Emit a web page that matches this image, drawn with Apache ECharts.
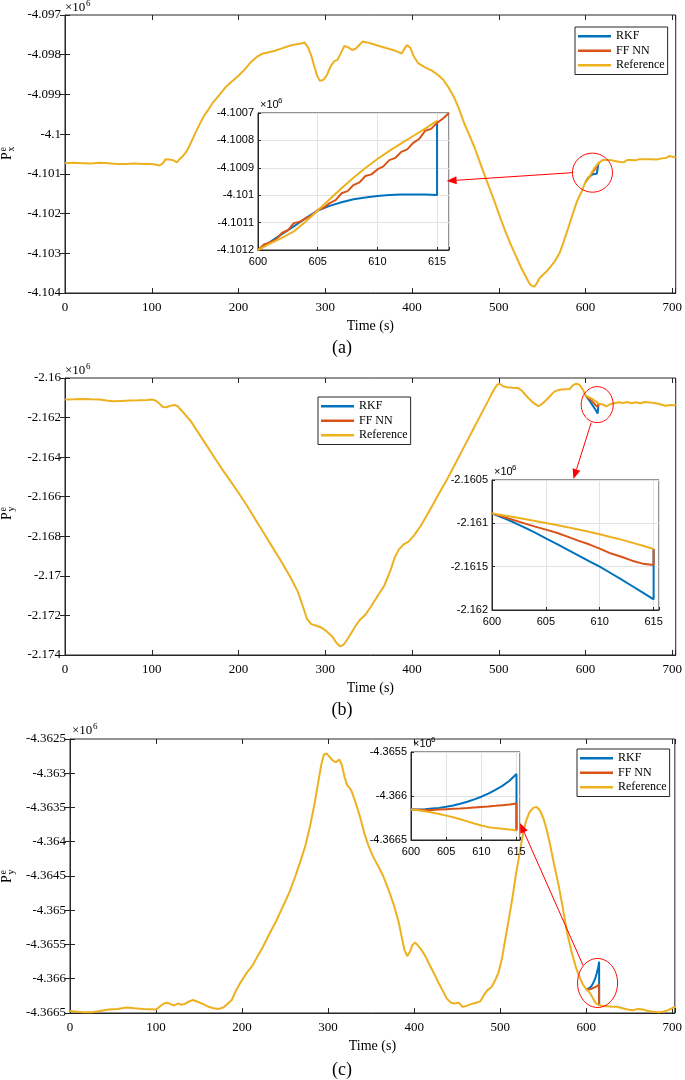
<!DOCTYPE html>
<html><head><meta charset="utf-8">
<script src="https://cdn.jsdelivr.net/npm/echarts@6/dist/echarts.min.js"></script>
<style>html,body{margin:0;padding:0;background:#fff}#c{width:685px;height:1080px}</style>
</head><body><div id="c"></div>
<script>
// ---------------- DATA (values in units of 1e6) ----------------
// Panel (a): P_x^e
const tA = [0,10,20,30,40,50,60,70,80,90,100,105,109,113,116,120,125,129,132,136,140,143,147,150,155,160,165,170,178,185,192,200,208,215,222,228,235,242,250,258,265,272,276,280,284,288,291,294,298,302,306,310,314,318,322,326,331,335,339,343,348,355,362,370,378,384,388,391,394,398,402,407,415,423,430,436,442,448,454,460,466,472,478,484,490,496,502,508,514,520,526,531,535,538,541,544,547,551,555,560,565,570,575,580,585,590,595,620,625,630,635,640,644,648,652,658,662,668,675,682,688,693,697,704];
const refA = [-4.10073,-4.10072,-4.10073,-4.10074,-4.10072,-4.10073,-4.10075,-4.10075,-4.10074,-4.10075,-4.10075,-4.10077,-4.10079,-4.10073,-4.10063,-4.10064,-4.10066,-4.10071,-4.10063,-4.10055,-4.10044,-4.10031,-4.10013,-4.09998,-4.09976,-4.09955,-4.09939,-4.09922,-4.09901,-4.09882,-4.09868,-4.09853,-4.09835,-4.09817,-4.09804,-4.09797,-4.09794,-4.0979,-4.09784,-4.09778,-4.09774,-4.09772,-4.09769,-4.09781,-4.09803,-4.09834,-4.09855,-4.09866,-4.09863,-4.09851,-4.0983,-4.09817,-4.09813,-4.09796,-4.09778,-4.09781,-4.09788,-4.09785,-4.09776,-4.09767,-4.09769,-4.09773,-4.09778,-4.09783,-4.09788,-4.09793,-4.09797,-4.09786,-4.09776,-4.09782,-4.09804,-4.09821,-4.09832,-4.0984,-4.09851,-4.09863,-4.09882,-4.09905,-4.09935,-4.09972,-4.10002,-4.10033,-4.10069,-4.10105,-4.1014,-4.10175,-4.10212,-4.10247,-4.10279,-4.10308,-4.10337,-4.10358,-4.10375,-4.10382,-4.10384,-4.10375,-4.10363,-4.10354,-4.10346,-4.10333,-4.10319,-4.103,-4.1027,-4.10237,-4.10203,-4.1017,-4.10147,-4.10065,-4.10065,-4.10066,-4.10068,-4.1007,-4.10071,-4.10065,-4.10065,-4.10066,-4.10063,-4.10063,-4.10063,-4.10064,-4.10061,-4.1006,-4.10055,-4.10059];
const insTA = [600,601,602,603,604,605,606,607,608,609,610,611,612,613,614,615];
const insRefA = [-4.1012,-4.101177,-4.101156,-4.101132,-4.101096,-4.101056,-4.101015,-4.100975,-4.100936,-4.100901,-4.100868,-4.100838,-4.100811,-4.100784,-4.100757,-4.100729];
const insRkfA = [-4.1012,-4.101171,-4.101142,-4.101114,-4.101084,-4.101056,-4.101039,-4.101026,-4.101015,-4.101008,-4.101003,-4.100999,-4.100997,-4.100997,-4.100997,-4.100999];
const insFfTA = [600,600.5,601,601.5,602,602.5,603,603.5,604,604.5,605,605.5,606,606.5,607,607.5,608,608.5,609,609.5,610,610.5,611,611.5,612,612.5,613,613.5,614,614.5,615,615.5,616];
const insFfA = [-4.1012,-4.10118,-4.101172,-4.101162,-4.101138,-4.101128,-4.101102,-4.101097,-4.101084,-4.101074,-4.101054,-4.101046,-4.101029,-4.101018,-4.100993,-4.100985,-4.100963,-4.100953,-4.10093,-4.100924,-4.100906,-4.100895,-4.100872,-4.100864,-4.100842,-4.100833,-4.100809,-4.100795,-4.100765,-4.100758,-4.100736,-4.10072,-4.1007];

// Panel (b): P_y^e
const tB = [0,10,20,30,40,48,55,65,75,85,95,100,104,108,113,117,121,126,130,135,140,145,150,160,170,180,190,200,210,220,230,240,250,260,268,274,279,284,290,296,302,308,313,317,321,325,330,335,340,346,352,360,368,375,380,385,390,396,402,410,420,430,440,450,460,470,480,488,494,498,501,505,510,516,522,527,533,540,546,552,558,564,570,576,582,585,589,593,597,620,624,628,633,638,643,648,653,658,663,668,674,680,686,692,698,704];
const refB = [-2.16109,-2.16108,-2.16106,-2.16108,-2.16109,-2.16114,-2.16118,-2.16116,-2.16114,-2.16113,-2.16111,-2.16109,-2.16113,-2.16126,-2.16146,-2.16148,-2.16141,-2.16136,-2.16143,-2.16168,-2.16193,-2.16218,-2.16252,-2.16319,-2.16387,-2.16454,-2.16516,-2.1658,-2.16647,-2.16719,-2.1679,-2.16861,-2.16933,-2.17008,-2.17076,-2.17151,-2.17218,-2.17244,-2.17252,-2.17262,-2.17282,-2.17306,-2.17339,-2.17356,-2.17349,-2.17324,-2.17289,-2.17252,-2.17222,-2.17198,-2.1716,-2.17104,-2.1705,-2.16975,-2.16908,-2.16866,-2.16842,-2.16827,-2.16798,-2.16748,-2.16672,-2.16593,-2.16516,-2.16432,-2.16348,-2.16264,-2.1618,-2.16113,-2.16062,-2.16035,-2.16029,-2.16042,-2.16047,-2.16049,-2.1605,-2.16066,-2.16096,-2.16126,-2.16143,-2.16123,-2.16096,-2.16069,-2.16059,-2.16057,-2.16055,-2.16039,-2.16029,-2.16034,-2.16059,-2.16134,-2.16143,-2.16133,-2.16128,-2.16123,-2.16126,-2.16121,-2.16128,-2.16123,-2.16128,-2.16121,-2.16124,-2.16126,-2.16133,-2.1614,-2.16136,-2.16138];
const insTB = [600,601,602,603,604,605,606,607,608,609,610,611,612,613,614,615];
const insRefB = [-2.160885,-2.160906,-2.160927,-2.16095,-2.160973,-2.160996,-2.161019,-2.161044,-2.161071,-2.161098,-2.161127,-2.161158,-2.161188,-2.161223,-2.161258,-2.161296];
const insRkfB = [-2.160885,-2.160935,-2.160988,-2.161046,-2.161108,-2.161173,-2.161238,-2.161304,-2.161369,-2.161435,-2.1615,-2.161573,-2.161646,-2.161723,-2.1618,-2.161877];
const insFfB = [-2.160885,-2.160923,-2.160962,-2.161,-2.161038,-2.161073,-2.161108,-2.161154,-2.1612,-2.161242,-2.161292,-2.161346,-2.161385,-2.161431,-2.161465,-2.161481];

// Panel (c): P_y^e
const tC = [0,8,15,25,35,45,55,66,75,85,100,104,109,113,117,121,126,129,133,137,143,149,155,161,167,173,178,183,188,193,198,205,212,218,224,232,240,248,255,262,268,274,279,284,288,292,295,298,301,305,309,313,316,319,322,327,332,337,342,347,352,358,364,370,376,382,386,389,392,395,398,401,404,408,413,418,423,428,433,438,443,448,452,456,460,466,472,477,481,485,490,495,498,502,506,510,514,518,522,526,530,534,538,542,546,550,554,558,563,568,573,578,583,588,592,596,620,625,630,636,642,648,654,660,666,672,678,684,690,695,700,703];
const refC = [-4.36647,-4.36648,-4.36649,-4.36649,-4.36647,-4.36645,-4.36644,-4.36642,-4.36643,-4.36644,-4.36645,-4.36641,-4.36636,-4.36635,-4.36637,-4.36639,-4.36636,-4.36638,-4.36637,-4.36634,-4.36631,-4.36634,-4.36637,-4.36641,-4.36643,-4.36644,-4.36642,-4.36637,-4.36631,-4.36617,-4.36606,-4.36592,-4.36581,-4.36567,-4.36554,-4.36534,-4.36515,-4.36493,-4.36474,-4.3645,-4.36428,-4.36404,-4.36377,-4.36346,-4.36317,-4.36288,-4.36273,-4.36271,-4.36275,-4.36281,-4.36284,-4.3628,-4.36288,-4.36305,-4.36317,-4.36325,-4.36343,-4.36363,-4.36387,-4.36406,-4.36421,-4.36435,-4.3645,-4.36469,-4.36491,-4.36517,-4.36542,-4.36559,-4.36567,-4.36561,-4.36551,-4.36547,-4.36551,-4.36557,-4.36567,-4.3658,-4.36592,-4.36605,-4.36617,-4.36629,-4.36635,-4.36636,-4.36635,-4.36641,-4.3664,-4.36637,-4.36635,-4.36633,-4.36624,-4.36617,-4.36612,-4.366,-4.36591,-4.36571,-4.36542,-4.36513,-4.36484,-4.3645,-4.36421,-4.36392,-4.3637,-4.36357,-4.36351,-4.36349,-4.36354,-4.36365,-4.36382,-4.36404,-4.36435,-4.36464,-4.36498,-4.36534,-4.36561,-4.36583,-4.36597,-4.36608,-4.3664,-4.3664,-4.36641,-4.36641,-4.36643,-4.36645,-4.36646,-4.36644,-4.36645,-4.36647,-4.36648,-4.36649,-4.36648,-4.36646,-4.36643,-4.36641];
const insTC = [600,601,602,603,604,605,606,607,608,609,610,611,612,613,614,615];
const insRefC = [-4.366154,-4.366162,-4.366173,-4.366188,-4.366204,-4.366223,-4.366242,-4.366265,-4.366288,-4.366312,-4.366335,-4.366354,-4.366365,-4.366373,-4.366381,-4.366392];
const insRkfC = [-4.366154,-4.366154,-4.36615,-4.366142,-4.366135,-4.366123,-4.366108,-4.366088,-4.366065,-4.366038,-4.366008,-4.365973,-4.365931,-4.365885,-4.365827,-4.36575];
const insFfC = [-4.366154,-4.366156,-4.366158,-4.366158,-4.366154,-4.36615,-4.366146,-4.366142,-4.366137,-4.366131,-4.366125,-4.366119,-4.366112,-4.366104,-4.366096,-4.366085];

// axis tick definitions
const yTicksA = {min: -4.104, max: -4.097, interval: 0.001};
const yTicksB = {min: -2.174, max: -2.16, interval: 0.002};
const yTicksC = {min: -4.3665, max: -4.3625, interval: 0.0005};
const yTicksIA = {min: -4.1012, max: -4.1007, interval: 0.0001};
const yTicksIB = {min: -2.162, max: -2.1605, interval: 0.0005};
const yTicksIC = {min: -4.3665, max: -4.3655, interval: 0.0005};
const names = ['RKF', 'FF NN', 'Reference'];
const colors = ['#0072BD', '#D95319', '#EDB120'];

// ---------------- HELPERS ----------------
const SERIF = '"Liberation Serif","Times New Roman",serif';
const SANS = '"Liberation Sans",Arial,sans-serif';
const AX = '#262626';
const pairs = (t, v) => t.map((x, i) => [x, v[i]]);
// full reference track: main samples outside the zoomed window + zoomed samples inside it
function refTrack(t, ref, it, iv) {
  const out = [];
  const last = it[it.length - 1];
  t.forEach((x, i) => { if (x < it[0]) out.push([x, ref[i]]); });
  it.forEach((x, i) => out.push([x, iv[i]]));
  t.forEach((x, i) => { if (x > last) out.push([x, ref[i]]); });
  return out;
}
// deviating track (only differs from the reference in the zoomed window)
function devTrack(it, iv, jumpTo) {
  const out = pairs(it, iv);
  if (jumpTo !== null) out.push([it[it.length - 1], jumpTo]);
  return out;
}
const fmtY = v => String(+v.toFixed(5));
const fmtX = step => v => (Math.abs(v / step - Math.round(v / step)) < 1e-6 ? String(Math.round(v)) : '');

function xAxesMain(g, max) {
  return [{
    gridIndex: g, type: 'value', min: 0, max: max, interval: 100, position: 'bottom',
    axisLine: {show: true, onZero: false, lineStyle: {color: AX, width: 1}},
    axisTick: {show: true, inside: true, length: 5, lineStyle: {color: AX}},
    axisLabel: {formatter: fmtX(100), fontFamily: SERIF, fontSize: 13, color: '#000', margin: 8},
    splitLine: {show: false},
    name: 'Time (s)', nameLocation: 'middle', nameGap: 26,
    nameTextStyle: {fontFamily: SERIF, fontSize: 14, color: '#000'}
  }, {
    gridIndex: g, type: 'value', min: 0, max: max, interval: 100, position: 'top',
    axisLine: {show: false}, axisTick: {show: true, inside: true, length: 5, lineStyle: {color: AX}},
    axisLabel: {show: false}, splitLine: {show: false}
  }];
}
function yAxesMain(g, tk) {
  return [{
    gridIndex: g, type: 'value', min: tk.min, max: tk.max, interval: tk.interval, position: 'left',
    axisLine: {show: true, onZero: false, lineStyle: {color: AX, width: 1}},
    axisTick: {show: true, inside: true, length: 5, lineStyle: {color: AX}},
    axisLabel: {formatter: fmtY, fontFamily: SERIF, fontSize: 13, color: '#000', margin: 4},
    splitLine: {show: false}
  }, {
    gridIndex: g, type: 'value', min: tk.min, max: tk.max, interval: tk.interval, position: 'right',
    axisLine: {show: false}, axisTick: {show: true, inside: true, length: 5, lineStyle: {color: AX}},
    axisLabel: {show: false}, splitLine: {show: false}
  }];
}
function xAxisInset(g, max) {
  return {
    gridIndex: g, type: 'value', min: 600, max: max, interval: 5, position: 'bottom', z: 6,
    axisLine: {show: true, onZero: false, lineStyle: {color: AX}},
    axisTick: {show: true, inside: true, length: 3, lineStyle: {color: AX}},
    axisLabel: {formatter: fmtX(5), fontFamily: SANS, fontSize: 11, color: '#000', margin: 6},
    splitLine: {show: true, lineStyle: {color: '#e3e3e3', width: 1}}
  };
}
function yAxisInset(g, tk) {
  return {
    gridIndex: g, type: 'value', min: tk.min, max: tk.max, interval: tk.interval, position: 'left', z: 6,
    axisLine: {show: true, onZero: false, lineStyle: {color: AX}},
    axisTick: {show: true, inside: true, length: 3, lineStyle: {color: AX}},
    axisLabel: {formatter: fmtY, fontFamily: SANS, fontSize: 11, color: '#000', margin: 4},
    splitLine: {show: true, lineStyle: {color: '#e3e3e3', width: 1}}
  };
}
function line(name, idx, data, xi, yi, z, w) {
  return {
    type: 'line', name: name, data: data, xAxisIndex: xi, yAxisIndex: yi,
    showSymbol: false, symbol: 'none', smooth: false, animation: false, z: z,
    lineStyle: {color: colors[idx], width: w}, itemStyle: {color: colors[idx]},
    clip: true, silent: true
  };
}

// ---------------- LAYOUT ----------------
const grids = [
  {left: 65, top: 15, width: 612, height: 278},          // 0 main a
  {left: 258, top: 113, width: 191, height: 137},        // 1 inset a
  {left: 65, top: 378, width: 612, height: 277},         // 2 main b
  {left: 492, top: 480, width: 167, height: 130},        // 3 inset b
  {left: 70, top: 739, width: 608, height: 274},         // 4 main c
  {left: 411, top: 752, width: 109, height: 88}          // 5 inset c
].map((g, i) => Object.assign({
  show: true, borderColor: AX, borderWidth: 1, containLabel: false,
  backgroundColor: (i % 2 === 1) ? '#ffffff' : 'rgba(0,0,0,0)', z: (i % 2 === 1) ? 5 : 0
}, g));

const xAxis = [].concat(
  xAxesMain(0, 704), [xAxisInset(1, 616)],
  xAxesMain(2, 704), [xAxisInset(3, 615.5)],
  xAxesMain(4, 703), [xAxisInset(5, 615.5)]
);
const yAxis = [].concat(
  yAxesMain(0, yTicksA), [yAxisInset(1, yTicksIA)],
  yAxesMain(2, yTicksB), [yAxisInset(3, yTicksIB)],
  yAxesMain(4, yTicksC), [yAxisInset(5, yTicksIC)]
);

const last = a => a[a.length - 1];
const series = [];
// panel a (main axes index 0, inset axes 2)
series.push(line('RKF', 0, devTrack(insTA, insRkfA, last(insRefA)), 0, 0, 2, 2));
series.push(line('FF NN', 1, devTrack(insFfTA, insFfA, null), 0, 0, 2, 2));
series.push(line('Reference', 2, refTrack(tA, refA, insTA, insRefA), 0, 0, 2, 2));
series.push(line('RKF', 0, devTrack(insTA, insRkfA, last(insRefA)), 2, 2, 7, 2));
series.push(line('FF NN', 1, devTrack(insFfTA, insFfA, null), 2, 2, 7, 2));
series.push(line('Reference', 2, pairs(insTA, insRefA), 2, 2, 7, 2));
// panel b (main 3, inset 5)
series.push(line('RKF', 0, devTrack(insTB, insRkfB, last(insRefB)), 3, 3, 2, 2));
series.push(line('FF NN', 1, devTrack(insTB, insFfB, last(insRefB)), 3, 3, 2, 2));
series.push(line('Reference', 2, refTrack(tB, refB, insTB, insRefB), 3, 3, 2, 2));
series.push(line('RKF', 0, devTrack(insTB, insRkfB, last(insRefB)), 5, 5, 7, 2));
series.push(line('FF NN', 1, devTrack(insTB, insFfB, last(insRefB)), 5, 5, 7, 2));
series.push(line('Reference', 2, pairs(insTB, insRefB), 5, 5, 7, 2));
// panel c (main 6, inset 8)
series.push(line('RKF', 0, devTrack(insTC, insRkfC, last(insRefC)), 6, 6, 2, 2));
series.push(line('FF NN', 1, devTrack(insTC, insFfC, last(insRefC)), 6, 6, 2, 2));
series.push(line('Reference', 2, refTrack(tC, refC, insTC, insRefC), 6, 6, 2, 2));
series.push(line('RKF', 0, devTrack(insTC, insRkfC, last(insRefC)), 8, 8, 7, 2));
series.push(line('FF NN', 1, devTrack(insTC, insFfC, last(insRefC)), 8, 8, 7, 2));
series.push(line('Reference', 2, pairs(insTC, insRefC), 8, 8, 7, 2));

function legend(left, top) {
  return {
    data: names, orient: 'vertical', left: left, top: top, icon: 'rect',
    itemWidth: 33, itemHeight: 2.5, itemGap: 0, padding: [2, 3, 2, 3],
    borderColor: AX, borderWidth: 1, backgroundColor: '#fff', selectedMode: false,
    textStyle: {fontFamily: SERIF, fontSize: 12, color: '#000', lineHeight: 14.5}, z: 8
  };
}

const chart = echarts.init(document.getElementById('c'), null, {renderer: 'canvas'});
chart.setOption({
  animation: false,
  backgroundColor: '#fff',
  grid: grids, xAxis: xAxis, yAxis: yAxis, series: series,
  legend: [legend(575, 27), legend(318, 397), legend(577, 749)]
});

// ---------------- ANNOTATIONS ----------------
const px = (si, x, y) => chart.convertToPixel({seriesIndex: si}, [x, y]);
const RED = '#ff0000';
function ellipse(c, rx, ry) {
  const pts = [];
  for (let k = 0; k <= 72; k++) { const a = k / 72 * 2 * Math.PI; pts.push([c[0] + rx * Math.cos(a), c[1] + ry * Math.sin(a)]); }
  return {type: 'polyline', shape: {points: pts}, style: {stroke: RED, lineWidth: 1, fill: null}, z: 20};
}
function arrow(from, to) {
  const dx = to[0] - from[0], dy = to[1] - from[1], L = Math.hypot(dx, dy);
  const ux = dx / L, uy = dy / L, hl = 10, hw = 4;
  const b = [to[0] - ux * hl, to[1] - uy * hl];
  return [
    {type: 'line', shape: {x1: from[0], y1: from[1], x2: b[0], y2: b[1]}, style: {stroke: RED, lineWidth: 1}, z: 20},
    {type: 'polygon', shape: {points: [to, [b[0] - uy * hw, b[1] + ux * hw], [b[0] + uy * hw, b[1] - ux * hw]]}, style: {fill: RED}, z: 20}
  ];
}
function sup(pos, base, exp, font, size) {
  return [
    {type: 'text', x: pos[0], y: pos[1], style: {text: base, font: size + 'px ' + font, fill: '#000', textAlign: 'left', textVerticalAlign: 'bottom'}, z: 20},
    {type: 'text', x: pos[0] + (size === 13 ? 21 : 18), y: pos[1] - size * 0.45, style: {text: exp, font: Math.round(size * 0.72) + 'px ' + font, fill: '#000', textAlign: 'left', textVerticalAlign: 'bottom'}, z: 20}
  ];
}
function ylabel(x, y, sub) {
  return {
    type: 'group', x: x, y: y, rotation: Math.PI / 2, z: 20,
    children: [
      {type: 'text', x: 0, y: 0, style: {text: 'P', font: '14px ' + SERIF, fill: '#000', textAlign: 'left', textVerticalAlign: 'middle'}},
      {type: 'text', x: 8.5, y: -4, style: {text: 'e', font: '10px ' + SERIF, fill: '#000', textAlign: 'left', textVerticalAlign: 'middle'}},
      {type: 'text', x: 8.5, y: 4.5, style: {text: sub, font: '10px ' + SERIF, fill: '#000', textAlign: 'left', textVerticalAlign: 'middle'}}
    ]
  };
}

const g = [];
// panel a
const cA = px(0, 608, -4.10097);
g.push(ellipse(cA, 20, 19.5));
g.push(...arrow([cA[0] - 20, cA[1]], px(3, 615.8, -4.100948)));
// panel b
const cB = px(6, 613.5, -2.161346);
g.push(ellipse(cB, 16, 18));
const tipB = px(9, 607.56, -2.1605);
g.push(...arrow([cB[0] - 6, cB[1] + 18], [tipB[0], tipB[1] - 1]));
// panel c
const cC = px(12, 613.2, -4.366062);
g.push(ellipse(cC, 20, 24.5));
g.push(...arrow([cC[0] - 14.6, cC[1] - 17.8], px(15, 615.5, -4.366306)));

// x10^6 exponent labels
const tlA = px(0, 0, yTicksA.max), tlB = px(6, 0, yTicksB.max), tlC = px(12, 0, yTicksC.max);
g.push(...sup([tlA[0], tlA[1] - 1], '×10', '6', SERIF, 13));
g.push(...sup([tlB[0], tlB[1] - 1], '×10', '6', SERIF, 13));
g.push(...sup([tlC[0] + 2, tlC[1] - 2], '×10', '6', SERIF, 13));
const itA = px(3, 600, yTicksIA.max), itB = px(9, 600, yTicksIB.max), itC = px(15, 600, yTicksIC.max);
g.push(...sup([itA[0] + 2, itA[1] - 3], '×10', '6', SANS, 11));
g.push(...sup([itB[0] + 2, itB[1] - 3], '×10', '6', SANS, 11));
g.push(...sup([itC[0] + 2, itC[1] - 3], '×10', '6', SANS, 11));

// y-axis names
g.push(ylabel(7, 160, 'x'));
g.push(ylabel(7, 520, 'y'));
g.push(ylabel(7, 883, 'y'));

// subplot captions
[['(a)', 348], ['(b)', 710], ['(c)', 1070]].forEach(([t, y]) => {
  g.push({type: 'text', x: 342, y: y, style: {text: t, font: '18px ' + SERIF, fill: '#000', textAlign: 'center', textVerticalAlign: 'middle'}, z: 20});
});

chart.setOption({graphic: {elements: g}});
</script></body></html>
